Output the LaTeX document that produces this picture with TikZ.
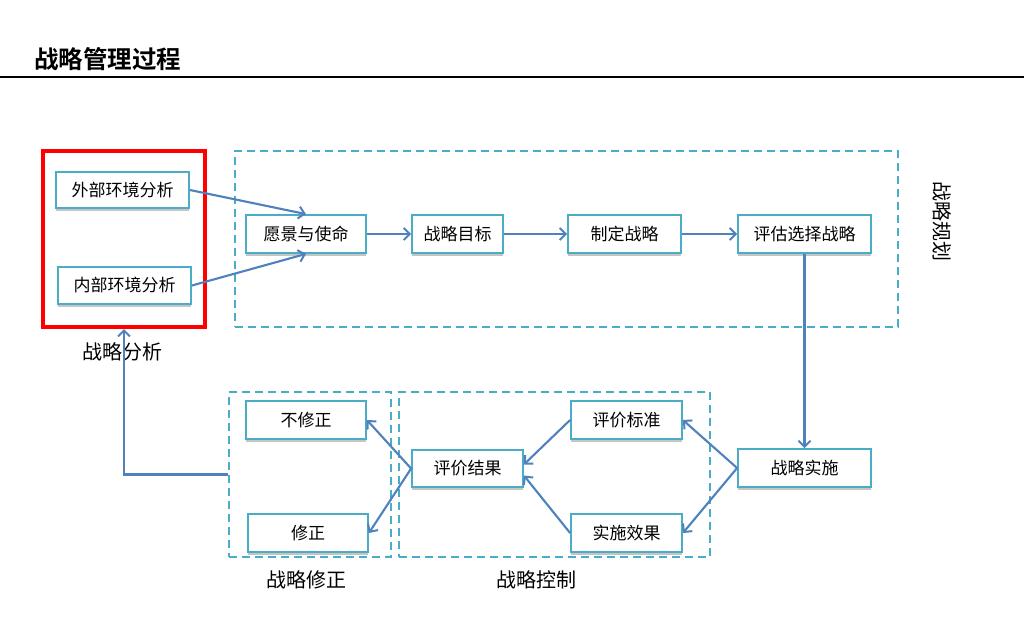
\documentclass[tikz,border=0pt]{standalone}
\usepackage{fontspec}
\setmainfont{Noto Sans CJK SC}[BoldFont={Noto Sans CJK SC Bold}]
\usetikzlibrary{arrows.meta,shadows}
\definecolor{boxline}{HTML}{4BACC6}
\definecolor{arrblue}{HTML}{4F81BD}
\definecolor{redline}{HTML}{FF0000}
\tikzset{
  box/.style={draw=boxline, line width=1.8pt, fill=white, inner sep=0pt,
    font=\fontsize{17}{19}\selectfont,
    drop shadow={shadow xshift=0pt, shadow yshift=-2.5pt, opacity=0.45, fill=gray}},
  dbox/.style={draw=boxline, line width=2.2pt, dash pattern=on 8pt off 5pt, inner sep=0pt},
  arr/.style={draw=arrblue, line width=2.1pt, -{Straight Barb[length=6pt,width=12pt,line width=2pt]}},
  lbl/.style={font=\fontsize{20}{22}\selectfont},
}
\begin{document}
\begin{tikzpicture}[x=1pt,y=-1pt]
\useasboundingbox[fill=white] (0,0) rectangle (1024,640);
% title
\node[anchor=west, font=\fontsize{24.5}{26}\selectfont\bfseries, inner sep=0pt] (title) at (34,59) {战略管理过程};
\draw[line width=1.5pt] (0,77) -- (1024,77);
% frames
\node[draw=redline, line width=4pt, minimum width=162pt, minimum height=176pt, inner sep=0pt] (redbox) at (124,239) {};
\node[dbox, minimum width=663pt, minimum height=176pt] (planbox) at (566.5,239) {};
\node[dbox, minimum width=162pt, minimum height=165pt] (corrbox) at (310,474.5) {};
\node[dbox, minimum width=311pt, minimum height=165pt] (ctrlbox) at (554.5,474.5) {};
% boxes
\node[box, minimum width=133pt, minimum height=36pt] (ext) at (122.5,190) {外部环境分析};
\node[box, minimum width=133pt, minimum height=37pt] (int) at (124.5,285.5) {内部环境分析};
\node[box, minimum width=120pt, minimum height=38pt] (vision) at (306,234) {愿景与使命};
\node[box, minimum width=91pt, minimum height=38pt] (goal) at (457.5,234) {战略目标};
\node[box, minimum width=113pt, minimum height=38pt] (form) at (624.5,234) {制定战略};
\node[box, minimum width=133pt, minimum height=38pt] (eval) at (804.5,234) {评估选择战略};
\node[box, minimum width=133pt, minimum height=38pt] (impl) at (804.5,468) {战略实施};
\node[box, minimum width=111pt, minimum height=38pt] (crit) at (626.5,420) {评价标准};
\node[box, minimum width=111pt, minimum height=38pt] (eff) at (626.5,533) {实施效果};
\node[box, minimum width=111pt, minimum height=37pt] (res) at (467.5,468.5) {评价结果};
\node[box, minimum width=120pt, minimum height=38pt] (nocorr) at (306,420) {不修正};
\node[box, minimum width=120pt, minimum height=38pt] (corr) at (308,533) {修正};
% labels
\node[lbl] (lana) at (122,352) {战略分析};
\node[lbl] (lcorr) at (306,580) {战略修正};
\node[lbl] (lctrl) at (536,580) {战略控制};
\node[lbl, rotate=-90] (lplan) at (942,221) {战略规划};
% connectors
\draw[arr] (ext.east) -- (vision.north);
\draw[arr] (int.east) -- (vision.south);
\draw[arr] (vision.east) -- (goal.west);
\draw[arr] (goal.east) -- (form.west);
\draw[arr] (form.east) -- (eval.west);
\draw[arr] (eval.south) -- (impl.north);
\draw[arr] (impl.west) -- (crit.east);
\draw[arr] (impl.west) -- (eff.east);
\draw[arr] (crit.west) -- ([yshift=4pt]res.east);
\draw[arr] (eff.west) -- ([yshift=-7pt]res.east);
\draw[arr] (res.west) -- (nocorr.east);
\draw[arr] (res.west) -- (corr.east);
\draw[arr] (corrbox.west) -| (redbox.south);
\end{tikzpicture}
\end{document}
